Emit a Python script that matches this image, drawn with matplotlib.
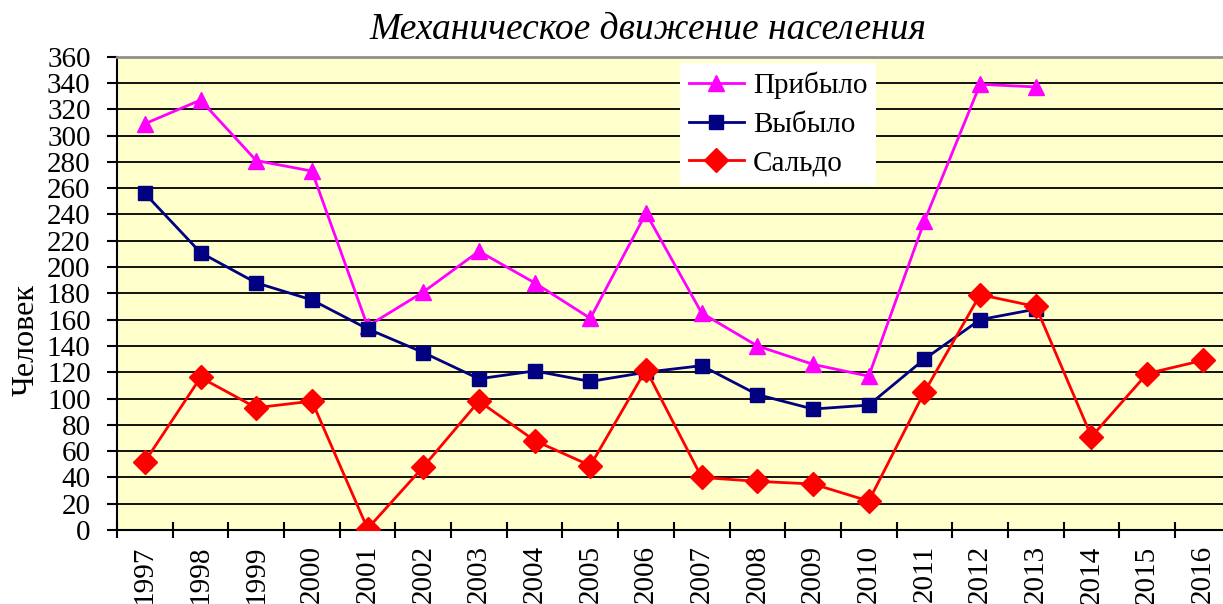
import matplotlib
matplotlib.use("Agg")
import matplotlib.pyplot as plt

years = [str(y) for y in range(1997, 2017)]
arrived = [309, 327, 281, 273, 155, 181, 212, 188, 161, 241, 165, 140, 126, 117, 235, 339, 337]
departed = [256, 211, 188, 175, 153, 135, 115, 121, 113, 120, 125, 103, 92, 95, 130, 160, 168]
balance = [52, 116, 93, 98, 1, 48, 98, 68, 49, 122, 40, 37, 35, 22, 105, 179, 170, 71, 119, 129]

title = "Механическое движение населения"
ylabel = "Человек"
names = ["Прибыло", "Выбыло", "Сальдо"]

plt.rcParams['font.family'] = ['Liberation Serif', 'DejaVu Serif']

W, H = 1223, 604
fig = plt.figure(figsize=(W / 100, H / 100), dpi=100)
ax = fig.add_axes([117 / W, (H - 530) / H, (1230.7 - 117) / W, 473.3 / H])
ax.set_facecolor('#FFFFCC')

x = list(range(len(years)))
ax.plot(x[:len(arrived)], arrived, color='#FF00FF', lw=2, marker='^', ms=12, label=names[0], zorder=3)
ax.plot(x[:len(departed)], departed, color='#000080', lw=2, marker='s', ms=10, label=names[1], zorder=3)
ax.plot(x[:len(balance)], balance, color='#FF0000', lw=2, marker='D', ms=12, label=names[2], zorder=3)

ax.set_xlim(-0.5, len(years) - 0.5)
ax.set_ylim(0, 360)
ax.set_yticks(range(0, 361, 20))
ax.yaxis.grid(True, color='black', lw=1.3)
ax.set_axisbelow(True)

ax.set_xticks(x)
ax.set_xticklabels(years, rotation=90, fontsize=21)
ax.set_xticks([i + 0.5 for i in range(-1, len(years))], minor=True)
ax.tick_params(axis='x', which='major', length=0, pad=11)
ax.tick_params(axis='x', which='minor', direction='inout', length=12, width=1.5)
ax.tick_params(axis='y', labelsize=21, direction='out', length=7, width=1.5, pad=12)

for s in ['left', 'bottom']:
    ax.spines[s].set_linewidth(1.5)
    ax.spines[s].set_color('black')
ax.spines['top'].set_color('#909090')
ax.spines['top'].set_linewidth(2)
ax.spines['right'].set_visible(False)

fig.text(26 / W, 1 - 340 / H, ylabel, ha='center', va='center', rotation=90, fontsize=23)
fig.text(648 / W, 1 - 30 / H, title, ha='center', va='center', fontsize=27, style='italic')

leg = ax.legend(loc='upper left', bbox_to_anchor=(680 / W, 1 - 63 / H), bbox_transform=fig.transFigure,
                fontsize=21, frameon=True, fancybox=False, edgecolor='none', facecolor='white', framealpha=1,
                handlelength=1.9, handletextpad=0.3, labelspacing=0.42, borderpad=0.3, borderaxespad=0)

fig.savefig('out.png', dpi=100)
